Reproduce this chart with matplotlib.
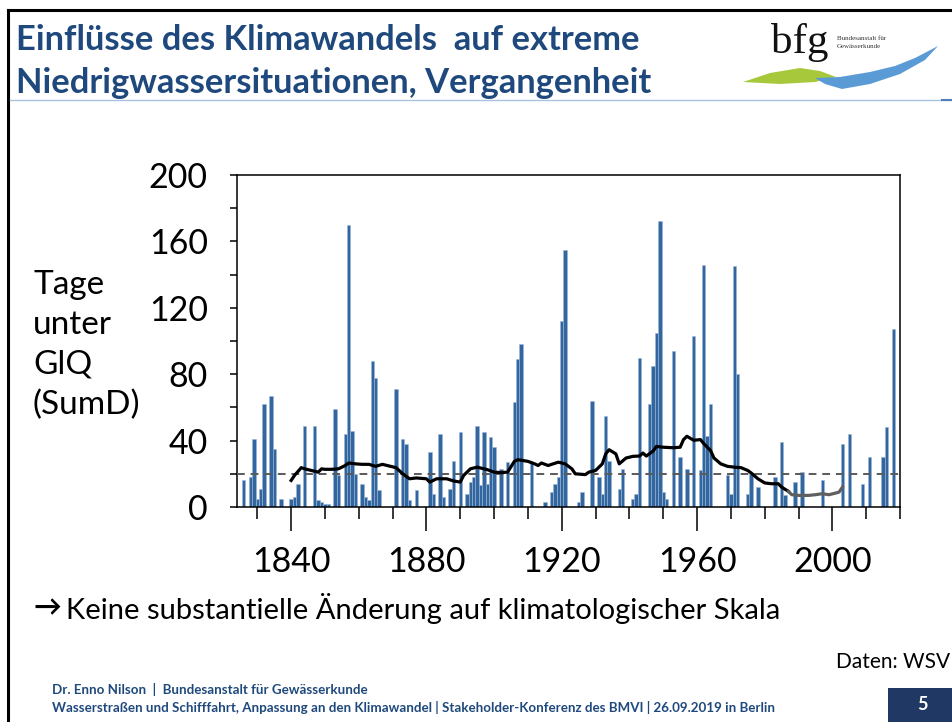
import matplotlib
matplotlib.use("Agg")
import matplotlib.pyplot as plt
from matplotlib.patches import Polygon, Rectangle

# days below GlQ per year, Pegel Kaub
years = [1826, 1828, 1829, 1830, 1831, 1832, 1834, 1835, 1837, 1840, 1841, 1842,
         1844, 1847, 1848, 1849, 1850, 1851, 1853, 1854, 1856, 1857, 1858, 1859,
         1861, 1862, 1863, 1864, 1865, 1866, 1871, 1873, 1874, 1875, 1877, 1881,
         1882, 1884, 1885, 1887, 1888, 1890, 1892, 1893, 1894, 1895, 1896, 1897,
         1898, 1899, 1900, 1902, 1904, 1906, 1907, 1908, 1911, 1915, 1917, 1918,
         1919, 1920, 1921, 1925, 1926, 1929, 1931, 1932, 1933, 1934, 1937, 1938,
         1941, 1942, 1943, 1946, 1947, 1948, 1949, 1950, 1951, 1953, 1955, 1957,
         1959, 1961, 1962, 1963, 1964, 1969, 1970, 1971, 1972, 1975, 1976, 1978,
         1983, 1985, 1986, 1989, 1991, 1997, 2003, 2005, 2009, 2011, 2015, 2016,
         2018]
days = [16, 18, 41, 5, 11, 62, 67, 35, 5, 5, 6, 14,
        49, 49, 4, 3, 2, 2, 59, 19, 44, 170, 46, 20,
        14, 6, 4, 88, 78, 10, 71, 41, 38, 4, 10, 33,
        8, 44, 6, 11, 28, 45, 8, 15, 18, 49, 13, 45,
        14, 42, 36, 23, 27, 63, 89, 98, 27, 3, 9, 14,
        18, 112, 155, 3, 9, 64, 18, 8, 55, 28, 11, 23,
        5, 8, 90, 62, 85, 105, 172, 9, 5, 94, 30, 23,
        103, 22, 146, 43, 62, 19, 8, 145, 80, 8, 20, 12,
        18, 39, 7, 15, 21, 16, 38, 44, 14, 30, 30, 48,
        107]

# running mean (black) and its last part (grey)
ma_years = [1840, 1841, 1843, 1844, 1846, 1848, 1849, 1850, 1852, 1854, 1856, 1857,
            1859, 1861, 1863, 1865, 1867, 1869, 1871, 1873, 1875, 1877, 1880, 1881,
            1883, 1886, 1888, 1890, 1891, 1893, 1895, 1898, 1900, 1902, 1904, 1906,
            1907, 1910, 1912, 1913, 1914, 1916, 1917, 1919, 1921, 1923, 1924, 1927,
            1928, 1930, 1932, 1933, 1934, 1936, 1937, 1939, 1941, 1943, 1944, 1945,
            1947, 1948, 1950, 1953, 1955, 1956, 1957, 1959, 1961, 1962, 1964, 1965,
            1967, 1969, 1971, 1973, 1975, 1976, 1978, 1980, 1982, 1984, 1985, 1987]
ma_days = [16, 19, 23.7, 23, 22, 21, 23, 22.7, 22.7, 23, 25, 26.5,
           26, 25.7, 25.7, 24.5, 25.7, 24.7, 23.7, 20, 17, 17.5, 17, 15,
           17, 17, 15.7, 15, 19, 23, 24, 22.5, 21, 20.7, 21, 27.5,
           28.5, 27.5, 26, 25, 26.5, 25, 25.7, 27, 26, 23, 20, 19.5,
           21, 22, 26, 32, 34.5, 32, 26, 29.5, 30.5, 30.7, 32.5, 30.7,
           33.7, 36.5, 36, 35.7, 36, 40.6, 42.6, 40.2, 40.6, 38.2, 34, 29.5,
           26, 24.5, 24, 23.7, 22, 20.5, 17, 14.5, 14, 14, 12, 9.4]
ma2_years = [1987, 1988, 1990, 1993, 1995, 1997, 1999, 2001, 2002, 2003]
ma2_days = [9.4, 7.4, 7, 7, 7.4, 8, 7.4, 8.4, 9, 12]

gl_level = 20
ytick_vals = [0, 40, 80, 120, 160, 200]
xtick_vals = [1840, 1880, 1920, 1960, 2000]

title_lines = ["Einflüsse des Klimawandels  auf extreme",
               "Niedrigwassersituationen, Vergangenheit"]
footer_lines = ["Dr. Enno Nilson  |  Bundesanstalt für Gewässerkunde",
                "Wasserstraßen und Schifffahrt, Anpassung an den Klimawandel | "
                "Stakeholder-Konferenz des BMVI | 26.09.2019 in Berlin"]

plt.rcParams['font.family'] = ['Lato', 'DejaVu Sans']
navy = '#1f497d'

fig = plt.figure(figsize=(9.52, 7.22), dpi=100)

# slide background layer in pixel coordinates
bg = fig.add_axes([0, 0, 1, 1])
bg.set_xlim(0, 952)
bg.set_ylim(722, 0)
bg.axis('off')

bg.plot([8, 952], [10, 10], color='black', lw=2.2)
bg.plot([8, 8], [10, 722], color='black', lw=2.2)
bg.plot([10, 952], [100, 100], color='#a9c3e3', lw=1)
bg.plot([942, 952], [100, 100], color='#4f81bd', lw=1.5)

bg.text(16, 40, title_lines[0], fontsize=24.8, fontweight='bold', color=navy, va='center')
bg.text(16, 83, title_lines[1], fontsize=24.8, fontweight='bold', color=navy, va='center')

# bfg logo
bg.text(771, 53, 'bfg', family='Liberation Serif', fontsize=31, va='baseline', color='#111')
bg.text(837, 38, 'Bundesanstalt für', family='Liberation Serif', fontsize=5, va='center', color='#333')
bg.text(837, 46, 'Gewässerkunde', family='Liberation Serif', fontsize=5, va='center', color='#333')
bg.add_patch(Polygon([(743, 82), (770, 73), (800, 68), (820, 71), (836, 77),
                      (815, 82), (780, 84)], closed=True, color='#a8c83c', lw=0))
bg.add_patch(Polygon([(815, 78), (840, 77), (870, 72), (895, 66), (915, 58), (938, 46),
                      (925, 60), (900, 74), (870, 84), (842, 89), (825, 84)], closed=True,
                     color='#5b9bd5', lw=0))

bg.text(33, 345, 'Tage\nunter\nGlQ\n(SumD)', fontsize=24, va='center', linespacing=1.42)
bg.text(251, 201, 'Pegel Kaub', fontsize=25, va='center')
bg.text(33, 608, '→', fontsize=20, fontweight='bold', va='center')
bg.text(66, 608, 'Keine substantielle Änderung auf klimatologischer Skala',
        fontsize=21, va='center')
bg.text(950, 662, 'Daten: WSV', fontsize=15, va='center', ha='right')

bg.text(52, 690, footer_lines[0], fontsize=9.6, fontweight='bold', color=navy, va='center')
bg.text(52, 707, footer_lines[1], fontsize=9.6, fontweight='bold', color=navy, va='center')
bg.add_patch(Rectangle((888, 688), 64, 34, color='#1f3864', lw=0))
bg.text(922, 705, '5', fontsize=13, fontweight='bold', color='white', ha='center', va='center')

# chart
ax = fig.add_axes([237 / 952, 1 - 507 / 722, 663 / 952, 332 / 722])
ax.bar(years, days, width=1.0, color='#33659e', edgecolor='#9ab8d8', linewidth=0.4, zorder=2)
ax.axhline(gl_level, color='#5a5a5a', ls=(0, (4, 3)), lw=1.4, zorder=3)
ax.plot(ma_years, ma_days, color='black', lw=2.3, zorder=4)
ax.plot(ma2_years, ma2_days, color='#5f5f5f', lw=2.3, zorder=4)

ax.set_xlim(1824, 2020)
ax.set_ylim(0, 200)
ax.set_xticks(xtick_vals)
ax.set_xticks(range(1830, 2021, 10), minor=True)
ax.set_yticks(ytick_vals)
ax.set_yticks(range(20, 200, 40), minor=True)
ax.tick_params(axis='x', which='major', length=17, width=1.1, pad=11, labelsize=24.5)
ax.tick_params(axis='x', which='minor', length=8.5, width=1.1)
ax.tick_params(axis='y', which='both', length=5, width=1.1, pad=16, labelsize=24.5)
for s in ax.spines.values():
    s.set_linewidth(1.1)

fig.savefig('out.png', dpi=100)
